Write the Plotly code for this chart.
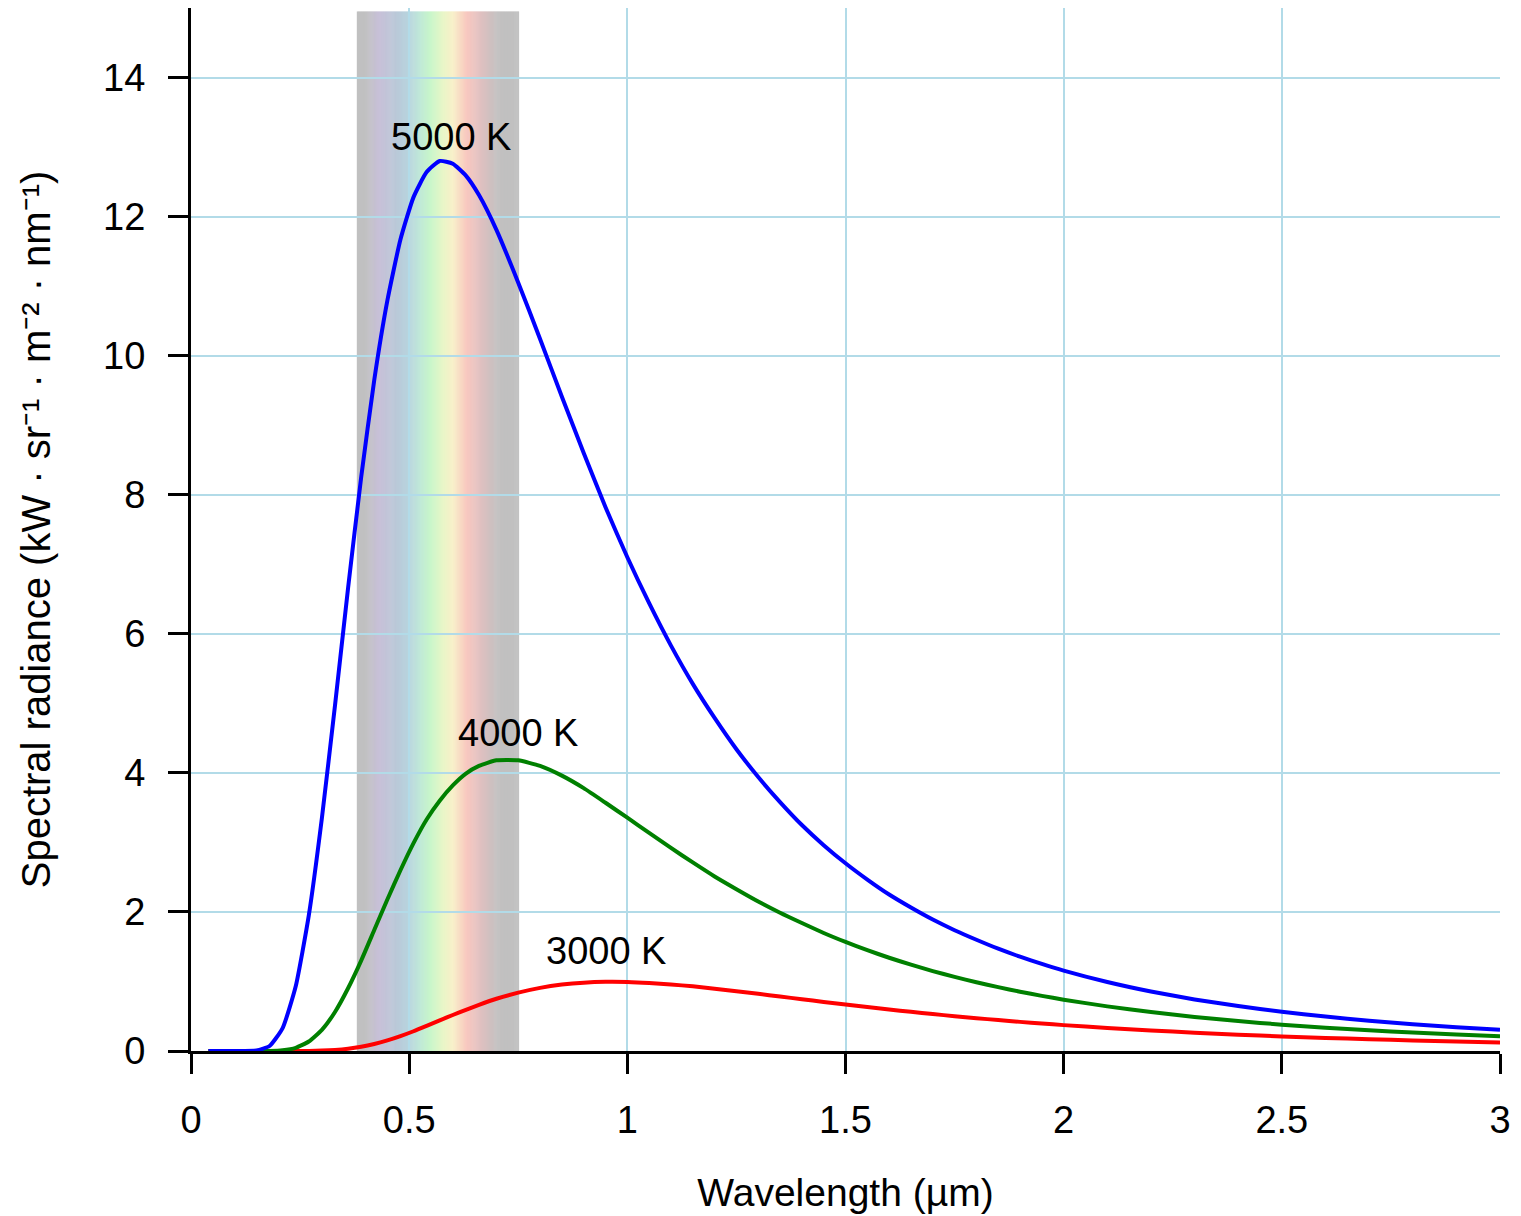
import plotly.graph_objects as go

# ---- data ----
wavelength_um = [0.04, 0.10, 0.15, 0.18, 0.21, 0.24, 0.27, 0.30, 0.33, 0.36, 0.39,
                 0.42, 0.45, 0.48, 0.51, 0.54, 0.57, 0.60, 0.63, 0.66, 0.70, 0.75,
                 0.80, 0.85, 0.90, 0.95, 1.0, 1.05, 1.1, 1.15, 1.2, 1.25, 1.3, 1.35,
                 1.4, 1.45, 1.5, 1.55, 1.6, 1.65, 1.7, 1.75, 1.8, 1.85, 1.9, 1.95,
                 2.0, 2.1, 2.2, 2.3, 2.4, 2.5, 2.6, 2.7, 2.8, 2.9, 3.0]

radiance_5000K = [0.0, 0.0, 0.007, 0.072, 0.33, 0.93, 1.95, 3.35, 4.97, 6.66, 8.25,
                  9.65, 10.79, 11.67, 12.28, 12.64, 12.80, 12.76, 12.59, 12.31, 11.81, 11.05,
                  10.24, 9.41, 8.60, 7.82, 7.10, 6.44, 5.83, 5.28, 4.79, 4.34, 3.94, 3.58,
                  3.25, 2.96, 2.70, 2.465, 2.25, 2.063, 1.89, 1.737, 1.60, 1.471, 1.356, 1.252,
                  1.157, 0.993, 0.856, 0.742, 0.646, 0.564, 0.495, 0.436, 0.386, 0.342, 0.304]

radiance_4000K = [0.0, 0.0, 0.0, 0.001, 0.011, 0.046, 0.136, 0.304, 0.561, 0.902, 1.30,
                  1.74, 2.18, 2.60, 2.99, 3.33, 3.60, 3.82, 3.99, 4.10, 4.18, 4.18,
                  4.10, 3.96, 3.78, 3.57, 3.355, 3.137, 2.92, 2.712, 2.51, 2.327, 2.15, 1.988,
                  1.84, 1.697, 1.568, 1.450, 1.341, 1.241, 1.149, 1.066, 0.989, 0.918, 0.853, 0.793,
                  0.738, 0.642, 0.560, 0.490, 0.430, 0.379, 0.336, 0.298, 0.265, 0.236, 0.212]

radiance_3000K = [0.0, 0.0, 0.0, 0.0, 0.0, 0.0003, 0.0016, 0.0056, 0.015, 0.032, 0.060,
                  0.100, 0.152, 0.214, 0.284, 0.361, 0.439, 0.518, 0.593, 0.664, 0.751, 0.839,
                  0.908, 0.955, 0.983, 0.995, 0.993, 0.979, 0.957, 0.930, 0.896, 0.860, 0.823, 0.783,
                  0.745, 0.706, 0.668, 0.632, 0.597, 0.563, 0.531, 0.501, 0.472, 0.445, 0.419, 0.395,
                  0.372, 0.331, 0.295, 0.263, 0.235, 0.210, 0.188, 0.169, 0.152, 0.137, 0.124]

series_labels = ["3000 K", "4000 K", "5000 K"]
label_x = [0.95, 0.75, 0.595]
label_y = [1.44, 4.58, 13.14]

x_ticks = [0, 0.5, 1, 1.5, 2, 2.5, 3]
x_ticktext = ["0", "0.5", "1", "1.5", "2", "2.5", "3"]
y_ticks = [0, 2, 4, 6, 8, 10, 12, 14]

visible_band = [0.38, 0.752]
band_top = 14.95

# gradient stops of the visible-spectrum band (position in µm, colour)
band_stops = [
    (0.380, (192, 192, 192)),
    (0.403, (192, 192, 194)),
    (0.430, (200, 192, 216)),
    (0.469, (186, 200, 216)),
    (0.499, (184, 212, 222)),
    (0.524, (192, 232, 216)),
    (0.550, (200, 246, 200)),
    (0.577, (232, 246, 200)),
    (0.600, (248, 240, 200)),
    (0.632, (248, 200, 192)),
    (0.664, (224, 192, 192)),
    (0.703, (194, 192, 192)),
    (0.752, (192, 192, 192)),
]


def band_color(xv):
    for (x0, c0), (x1, c1) in zip(band_stops[:-1], band_stops[1:]):
        if x0 <= xv <= x1:
            t = (xv - x0) / (x1 - x0) if x1 > x0 else 0
            r = round(c0[0] + (c1[0] - c0[0]) * t)
            g = round(c0[1] + (c1[1] - c0[1]) * t)
            b = round(c0[2] + (c1[2] - c0[2]) * t)
            return f"rgb({r},{g},{b})"
    return "rgb(192,192,192)"


FONT = "Liberation Sans, Arial, sans-serif"

fig = go.Figure()

# visible band as many thin shapes drawn below the gridlines
n_strips = 170
bw = (visible_band[1] - visible_band[0]) / n_strips
shapes = []
for i in range(n_strips):
    x0 = visible_band[0] + i * bw
    x1 = min(x0 + bw * 1.6, visible_band[1])
    shapes.append(dict(type="rect", xref="x", yref="y", x0=x0, x1=x1, y0=0, y1=band_top,
                       fillcolor=band_color(x0 + bw / 2), line=dict(width=0), layer="below"))

colors = {"3000 K": "#ff0000", "4000 K": "#008000", "5000 K": "#0000ff"}
series = {"3000 K": radiance_3000K, "4000 K": radiance_4000K, "5000 K": radiance_5000K}

for name in series_labels:
    fig.add_trace(go.Scatter(x=wavelength_um, y=series[name], mode="lines", name=name,
                             line=dict(color=colors[name], width=4, shape="spline", smoothing=0.5),
                             showlegend=False))

for name, lx, ly in zip(series_labels, label_x, label_y):
    fig.add_annotation(x=lx, y=ly, text=name, showarrow=False,
                       font=dict(family=FONT, size=38, color="black"))

axis_common = dict(showline=True, linecolor="black", linewidth=3, ticks="outside",
                   ticklen=20, tickwidth=3, tickcolor="black", showgrid=True,
                   gridcolor="#b2dbe8", gridwidth=2, zeroline=False,
                   tickfont=dict(family=FONT, size=38, color="black"))

fig.update_xaxes(range=[0, 3], tickvals=x_ticks, ticktext=x_ticktext,
                 title=dict(text="Wavelength (µm)", font=dict(family=FONT, size=39, color="black"),
                            standoff=40),
                 ticklabelstandoff=13, **axis_common)
fig.update_yaxes(range=[0, 15], tickvals=y_ticks,
                 title=dict(text="Spectral radiance (kW · sr⁻¹ · m⁻² · nm⁻¹)",
                            font=dict(family=FONT, size=40, color="black"), standoff=41),
                 ticklabelstandoff=15, **axis_common)

fig.update_layout(width=1521, height=1216, margin=dict(l=191, r=21, t=8, b=165),
                  plot_bgcolor="white", paper_bgcolor="white", shapes=shapes,
                  font=dict(family=FONT, color="black"))

fig.write_html("out.html")
